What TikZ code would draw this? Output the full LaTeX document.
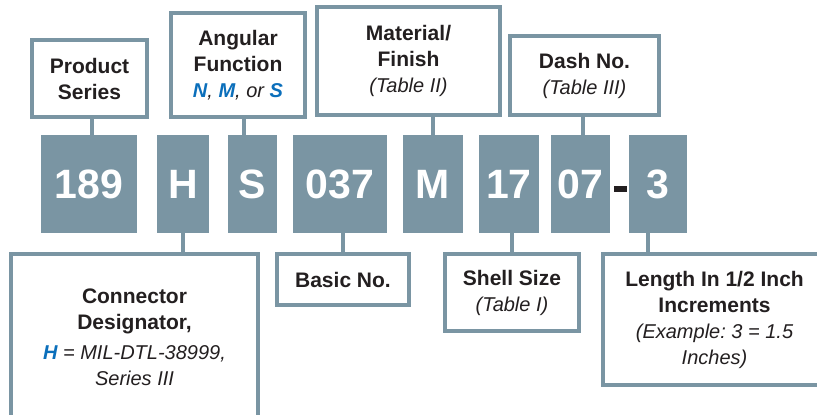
\documentclass[tikz,border=0pt]{standalone}
\usepackage{fontspec}
\setmainfont{Liberation Sans}
\usepackage{xcolor}
\usepackage{tikz}
\usetikzlibrary{positioning}
\definecolor{codegray}{HTML}{7A95A3}
\definecolor{inkdark}{HTML}{231F20}
\definecolor{codeblue}{HTML}{0B6FBB}
\newcommand{\Lit}{\fontsize{20}{26}\selectfont\mdseries\itshape}
\newcommand{\Blu}[1]{{\color{codeblue}\bfseries #1}}
\frenchspacing

\begin{document}
\begin{tikzpicture}[
x=1pt,y=-1pt,
LabelBox/.style={draw=codegray,line width=3.5pt,fill=white,text=inkdark,align=center,inner sep=0pt,font=\fontsize{21}{26}\selectfont\bfseries},
CodeBox/.style={fill=codegray,text=white,inner sep=0pt,minimum height=98,font=\fontsize{41}{41}\selectfont\bfseries},
Links/.style={draw=codegray,line width=3.5pt}
]
\useasboundingbox (0,0) rectangle (817,415);
\clip (0,0) rectangle (817,415);

% part number, one box per field
\node[CodeBox,minimum width=96] (c189) at (89,184) {189};
\node[CodeBox,minimum width=52] (cH) at (183,184) {H};
\node[CodeBox,minimum width=49] (cS) at (252.5,184) {S};
\node[CodeBox,minimum width=94] (c037) at (340,184) {037};
\node[CodeBox,minimum width=60] (cM) at (433,184) {M};
\node[CodeBox,minimum width=60] (c17) at (509,184) {17};
\node[CodeBox,minimum width=59] (c07) at (580.5,184) {07};
\node[CodeBox,minimum width=58] (c3) at (658,184) {3};
\node[fill=inkdark,inner sep=0pt,minimum width=13,minimum height=6] (dash) at (620.5,189) {};

% labels above
\node[LabelBox,minimum width=115,minimum height=77] (series) at (89.5,78.5) {Product\\Series};
\node[LabelBox,minimum width=134,minimum height=104] (angular) at (238,65) {Angular\\Function\\{\Lit\Blu{N}, \Blu{M}, or \Blu{S}}};
\node[LabelBox,minimum width=183,minimum height=108] (material) at (408.5,61) {Material/\\Finish\\{\Lit(Table II)}};
\node[LabelBox,minimum width=149,minimum height=79] (dashno) at (584.5,75.5) {Dash No.\\{\Lit(Table III)}};

% labels below
\node[LabelBox,minimum width=247,minimum height=166] (designator) at (134.5,337) {Connector\\Designator,\\[4pt]{\Lit\Blu{H} = MIL-DTL-38999,}\\{\Lit Series III}};
\node[LabelBox,minimum width=132,minimum height=51] (basic) at (343,279.5) {Basic No.};
\node[LabelBox,minimum width=134,minimum height=77] (shell) at (512,292.5) {Shell Size\\{\Lit(Table I)}};
\node[LabelBox,minimum width=223,minimum height=131] (length) at (714.5,319.5) {Length In 1/2 Inch\\Increments\\{\Lit(Example: 3 = 1.5}\\{\Lit Inches)}};

\foreach \c/\b/\s in {c189/series/3,cS/angular/-8.5,cM/material/0,c07/dashno/2.5}
  \draw[Links] ([xshift=\s]\c.north) -- ([xshift=\s]\c.north |- \b.south);
\foreach \c/\b/\s in {cH/designator/0,c037/basic/3,c17/shell/3,c3/length/-10}
  \draw[Links] ([xshift=\s]\c.south) -- ([xshift=\s]\c.south |- \b.north);

\end{tikzpicture}
\end{document}
